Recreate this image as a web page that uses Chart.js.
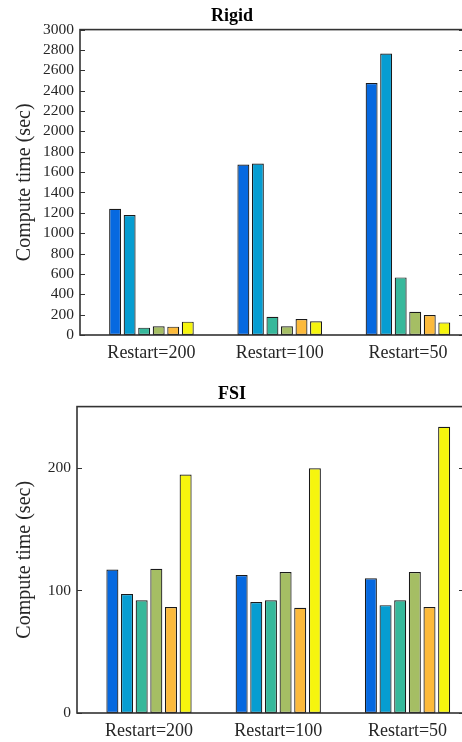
<!DOCTYPE html>
<html lang="en">
<head>
  <meta charset="UTF-8" />
  <title>Compute time: Rigid vs FSI</title>
  <script src="https://cdn.jsdelivr.net/npm/chart.js"></script>
  <style>
    html, body { margin: 0; padding: 0; background: #fff; overflow: hidden; width: 462px; height: 742px; }
    canvas { position: absolute; left: 0; display: block; }
    #rigidChart { top: 0; }
    #fsiChart { top: 370px; }
  </style>
</head>
<body>

  <canvas id="rigidChart" width="480" height="370"></canvas>
  <canvas id="fsiChart" width="480" height="372"></canvas>

  <script>
    // Restart settings along the x axis
    const categories = ["Restart=200", "Restart=100", "Restart=50"];

    // Rigid case, compute time (sec), one array per solver run
    const rigid1 = [1240, 1675, 2475];
    const rigid2 = [1178, 1685, 2765];
    const rigid3 = [72, 180, 566];
    const rigid4 = [85, 85, 229];
    const rigid5 = [82, 157, 196];
    const rigid6 = [131, 134, 124];

    // FSI case, compute time (sec)
    const fsi1 = [117, 112.5, 110];
    const fsi2 = [97, 90.5, 88];
    const fsi3 = [92, 92, 92];
    const fsi4 = [117.7, 115, 115];
    const fsi5 = [86.4, 85.8, 86.4];
    const fsi6 = [194.6, 199.7, 233.5];

    const rigidTicks = [0, 200, 400, 600, 800, 1000, 1200, 1400, 1600, 1800, 2000, 2200, 2400, 2600, 2800, 3000];
    const fsiTicks = [0, 100, 200];

    const barColors = ["#0669E0", "#069DD1", "#37B89B", "#A5BE64", "#FCBA3B", "#F6F50E"];

    const serif = "'Liberation Serif', 'Times New Roman', serif";
    const ink = "#262626";

    // box around the plot with MATLAB-style inward tick marks on both sides
    const frame = {
      id: "frame",
      afterDraw(chart) {
        const { ctx, chartArea: a } = chart;
        const y = chart.scales.y;
        ctx.save();
        ctx.strokeStyle = "#333";
        ctx.lineWidth = 1.6;
        ctx.strokeRect(a.left, a.top, a.right - a.left, a.bottom - a.top);
        ctx.lineWidth = 1.2;
        ctx.beginPath();
        y.ticks.forEach(t => {
          const py = Math.round(y.getPixelForValue(t.value)) + 0.5;
          ctx.moveTo(a.left, py); ctx.lineTo(a.left + 5, py);
          ctx.moveTo(a.right, py); ctx.lineTo(a.right - 5, py);
        });
        ctx.stroke();
        ctx.restore();
      }
    };

    function toSeries(values) {
      return values.map((v, i) => ({ x: i + 1, y: v }));
    }

    function makeChart(id, title, series, yTicks, yMax, yAxisWidth, xAxisHeight, titlePad, yTitlePad) {
      new Chart(document.getElementById(id), {
        type: "bar",
        data: {
          datasets: series.map((s, i) => ({
            data: toSeries(s),
            backgroundColor: barColors[i],
            borderColor: "#1a1a1a",
            borderWidth: 1.2,
            borderSkipped: false,
            barPercentage: 0.82,
            categoryPercentage: 0.68
          }))
        },
        options: {
          responsive: false,
          animation: false,
          layout: { padding: { right: 16, left: 0, top: 0, bottom: 0 } },
          plugins: {
            legend: { display: false },
            tooltip: { enabled: false },
            title: {
              display: true,
              text: title,
              color: "#000",
              font: { family: serif, size: 18, weight: "bold" },
              padding: titlePad
            }
          },
          scales: {
            x: {
              type: "linear",
              offset: false,
              min: 0.443,
              max: 3.437,
              grid: { display: false, drawTicks: false, offset: false },
              border: { display: false },
              afterBuildTicks: s => { s.ticks = categories.map((c, i) => ({ value: i + 1 })); },
              afterFit: s => { s.height = xAxisHeight; },
              ticks: {
                color: ink,
                font: { family: serif, size: 18 },
                padding: 7,
                autoSkip: false,
                maxRotation: 0,
                callback: v => categories[v - 1]
              }
            },
            y: {
              min: 0,
              max: yMax,
              grid: { display: false, drawTicks: false },
              border: { display: false },
              afterBuildTicks: s => { s.ticks = yTicks.map(v => ({ value: v })); },
              afterFit: s => { s.width = yAxisWidth; },
              ticks: {
                color: ink,
                font: { family: serif, size: 15.5 },
                padding: 6,
                autoSkip: false,
                callback: v => String(v)
              },
              title: {
                display: true,
                text: "Compute time (sec)",
                color: ink,
                font: { family: serif, size: 20 },
                padding: { top: yTitlePad, bottom: 0 }
              }
            }
          }
        },
        plugins: [frame]
      });
    }

    makeChart("rigidChart", "Rigid",
      [rigid1, rigid2, rigid3, rigid4, rigid5, rigid6],
      rigidTicks, 3000, 80, 35, { top: 6, bottom: 2 }, 13);

    makeChart("fsiChart", "FSI",
      [fsi1, fsi2, fsi3, fsi4, fsi5, fsi6],
      fsiTicks, 250, 77, 29, { top: 14, bottom: 1 }, 13);
  </script>
</body>
</html>
